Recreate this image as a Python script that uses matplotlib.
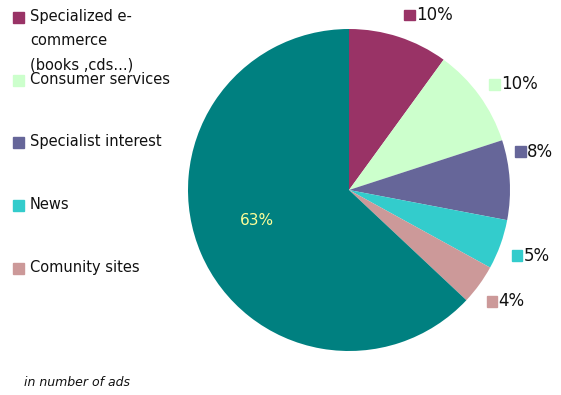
import matplotlib.pyplot as plt
import matplotlib.patches as mpatches
import numpy as np

# data
categories = ['Specialized e-\ncommerce\n(books ,cds...)', 'Consumer services',
              'Specialist interest', 'News', 'Comunity sites', 'Other']
shares = [10, 10, 8, 5, 4, 63]
colors = ['#993366', '#CCFFCC', '#666699', '#33CCCC', '#CC9999', '#008080']
in_legend = [True, True, True, True, True, False]
note = 'in number of ads'

# label placement tweaks (degrees shift from mid-angle, radius factor)
lab_shift = [0.5, 1, 9.4, -2.2, -3, 0]
lab_dist = [1.14, 1.09, 1.06, 1.09, 1.1, 0.6]

W, H = 561, 395
fig = plt.figure(figsize=(W / 100, H / 100), dpi=100)

# pie axes: centre ~ (349, 190) px, radius ~ 161 px
cx, cy, r = 349, 190, 161
ax = fig.add_axes([(cx - r) / W, (H - cy - r) / H, 2 * r / W, 2 * r / H])
wedges, _ = ax.pie(shares, colors=colors, startangle=90, counterclock=False,
                   radius=1, wedgeprops=dict(linewidth=0))
ax.set_xlim(-1, 1)
ax.set_ylim(-1, 1)
ax.set_aspect('equal')

# percentage labels with a small colour square
for w, val, col, sh, d in zip(wedges, shares, colors, lab_shift, lab_dist):
    mid = np.deg2rad((w.theta1 + w.theta2) / 2 + sh)
    if val > 50:
        ax.text(d * np.cos(mid) - 0.02, d * np.sin(mid) + 0.05, f'{val}%',
                color='#FFFF99', fontsize=11, ha='center', va='center')
        continue
    x, y = d * np.cos(mid), d * np.sin(mid)
    ax.add_patch(mpatches.Rectangle((x, y - 0.033), 0.066, 0.066, color=col,
                                    clip_on=False))
    ax.text(x + 0.075, y, f'{val}%', fontsize=12, ha='left', va='center',
            color='#111111')

# legend drawn by hand in pixel coordinates
lax = fig.add_axes([0, 0, 1, 1])
lax.set_xlim(0, W)
lax.set_ylim(H, 0)
lax.axis('off')
ys = [17, 80, 142, 205, 268]
for y, lab, col, show in zip(ys, categories, colors, in_legend):
    if not show:
        continue
    lax.add_patch(mpatches.Rectangle((13, y - 5.5), 11, 11, color=col))
    lax.text(30, y - 8, lab, fontsize=10.5, ha='left', va='top',
             linespacing=1.75, color='#111111')

lax.text(24, 383, note, fontsize=9, style='italic', ha='left', va='center',
         color='#111111')

fig.savefig('out.png', dpi=100)
